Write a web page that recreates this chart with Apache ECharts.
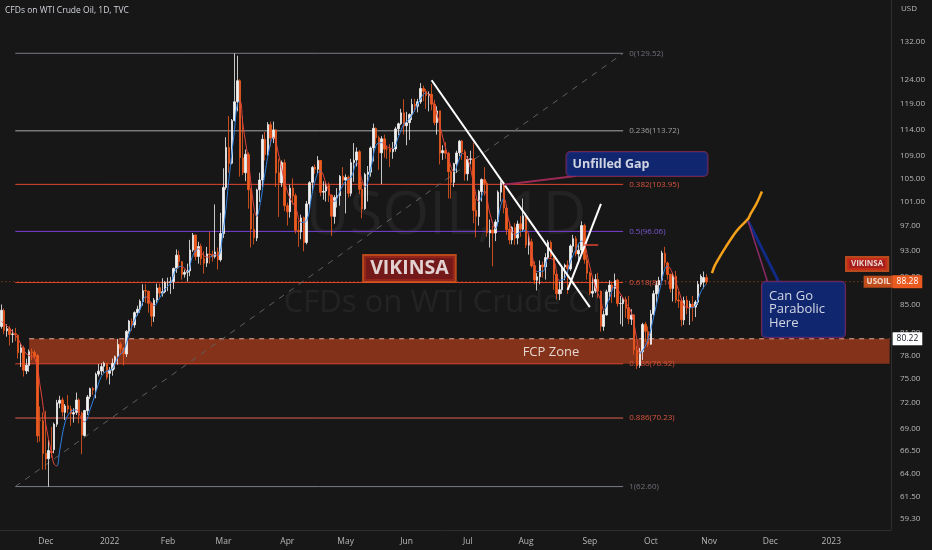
<!DOCTYPE html>
<html><head><meta charset="utf-8">
<script src="https://cdn.jsdelivr.net/npm/echarts@6/dist/echarts.min.js"></script>
<style>html,body{margin:0;padding:0;background:#171717;}#c{width:932px;height:550px;}</style>
</head><body><div id="c"></div>
<script>
// ---------- DATA ----------
const firstDay = '2021-11-09';
const lastDay = '2023-01-31';
const monthNames = ['Jan','Feb','Mar','Apr','May','Jun','Jul','Aug','Sep','Oct','Nov','Dec'];
const yTicks = [59.3,61.5,64,66.5,69,72,75,78,81,85,89,93,97,101,105,109,114,119,124,132];

// daily [open, high, low, close], one row per trading day from firstDay
const ohlc = [
[81.9,84.97,81.6,84.15],[84.1,84.4,80.85,81.34],[81.3,82.2,80.5,81.59],[81.6,82.0,79.3,80.79],[80.8,81.5,79.7,80.88],[80.9,81.7,79.9,80.76],[80.7,80.8,77.6,78.36],[78.4,79.6,76.5,79.01],[79.0,79.3,75.3,76.10],[76.0,77.6,75.6,76.75],[76.7,78.8,75.9,78.50],[78.5,78.9,77.4,78.39],[78.4,78.7,77.6,77.90],[78.0,78.2,67.4,68.15],[70.0,71.6,67.5,69.95],[69.9,70.9,64.4,66.18],
[66.2,71.1,64.4,65.57],[65.6,67.7,62.6,66.50],[66.4,69.2,65.7,66.26],[66.6,69.7,66.2,69.49],[69.5,72.4,69.2,72.05],[72.0,72.9,71.4,72.36],[72.4,72.7,70.4,70.94],[70.9,71.9,70.0,71.67],[71.7,73.0,70.8,71.29],[71.3,71.7,69.3,70.73],[70.7,71.4,69.7,70.87],[70.9,73.3,70.6,72.38],[72.4,72.6,69.6,70.86],[70.8,71.0,66.1,68.23],[68.2,71.2,68.1,71.12],[71.1,73.0,70.6,72.76],[72.8,73.9,72.5,73.79],[73.8,74.0,73.0,73.60],[73.6,75.8,72.6,75.57],[75.6,76.9,75.3,75.98],[76.0,77.0,75.5,76.56],[76.6,77.2,75.8,76.99],[77.0,77.0,74.9,75.21],
[75.7,76.5,74.3,76.08],[76.1,77.6,75.4,76.99],[77.0,78.0,76.2,77.85],[77.9,80.2,76.8,79.46],[79.5,79.8,78.2,78.90],[78.9,79.1,76.7,78.23],[78.2,81.4,77.8,81.22],[81.2,82.8,80.9,82.64],[82.6,83.0,81.3,82.12],[82.1,84.0,81.7,83.82],[83.8,84.8,83.4,84.30],[84.3,85.7,83.8,85.43],[85.4,87.9,84.8,86.96],[87.0,87.9,85.2,86.90],[86.9,86.9,83.8,85.14],[85.1,85.3,81.9,83.31],[83.3,85.9,82.5,85.60],[85.6,88.0,85.2,87.35],[87.4,88.0,86.0,86.61],[86.6,88.8,86.1,86.82],[86.8,88.4,86.6,88.15],
[88.2,88.9,86.9,88.20],[88.2,89.0,86.5,88.26],[88.3,90.4,87.2,90.27],[90.3,93.2,89.6,92.31],[92.3,93.0,90.3,91.32],[91.3,91.4,88.6,89.36],[89.4,90.1,88.9,89.66],[89.7,91.0,88.3,89.88],[89.9,94.7,89.1,93.10],[93.1,95.8,92.8,95.46],[95.5,95.5,91.5,92.07],[92.1,94.4,91.0,93.66],[93.7,94.1,90.8,91.76],[91.8,92.9,89.5,91.07],[91.1,93.6,90.5,92.50],[92.5,96.0,91.0,92.35],[92.4,93.0,91.3,92.10],[92.1,100.5,91.8,92.81],[92.8,93.5,90.1,91.59],[91.6,99.1,91.3,95.72],
[95.7,106.8,95.0,103.41],[103.4,112.5,103.0,110.60],[110.6,116.6,106.0,107.67],[107.7,116.0,107.5,115.68],[115.7,129.52,115.5,119.40],[119.4,129.0,117.5,123.70],[123.7,124.0,105.3,108.70],[108.7,116.6,105.6,106.02],[106.0,110.2,104.5,109.33],[109.3,109.7,99.8,103.01],[103.0,103.3,93.5,96.44],[96.4,99.0,94.0,95.04],[95.0,103.2,94.5,102.98],[103.0,106.0,100.9,104.70],[104.7,113.0,103.5,112.12],[112.1,113.5,108.2,109.27],[109.3,115.4,109.0,114.93],[114.9,115.5,110.8,112.34],[112.3,115.5,111.4,113.90],[113.9,114.0,103.5,105.96],[106.0,108.5,98.4,104.24],[104.2,108.2,103.5,107.82],[107.8,108.4,99.4,100.28],
[100.3,100.8,97.0,99.27],[99.3,103.9,98.3,103.28],[103.3,105.0,100.5,101.96],[102.0,102.4,95.7,96.23],[96.2,97.8,93.6,96.03],[96.0,98.8,94.8,98.26],[98.3,98.5,92.9,94.29],[94.3,101.1,94.0,100.60],[100.6,104.5,99.5,104.25],[104.3,107.2,102.5,106.95],[107.0,107.5,105.8,106.60],[106.6,109.0,105.8,108.21],[108.2,108.3,101.9,102.56],[102.6,104.5,101.3,102.75],[102.8,104.4,101.0,103.79],[103.8,104.3,100.9,102.07],[102.1,102.2,95.3,98.54],[98.5,102.1,97.3,101.70],[101.7,103.3,100.0,102.02],[102.0,105.6,100.3,105.36],[105.4,107.0,103.9,104.69],
[104.7,105.7,99.0,105.17],[105.2,105.5,101.7,102.41],[102.4,108.5,101.9,107.81],[107.8,111.4,104.4,108.26],[108.3,110.6,107.1,109.77],[109.8,110.1,102.3,103.09],[103.1,104.4,98.2,99.76],[99.8,106.0,99.6,105.71],[105.7,107.2,101.0,106.13],[106.1,110.8,105.3,110.49],[110.5,115.1,108.0,114.20],[114.2,114.4,111.2,112.40],[112.4,112.8,106.5,109.59],[109.6,112.7,104.0,112.21],[112.2,113.0,108.7,110.28],[110.3,111.0,108.5,110.29],[110.3,111.2,107.0,109.77],[109.8,111.6,108.5,110.33],[110.3,114.5,109.8,114.09],[114.1,115.3,112.9,115.07],[115.1,118.0,114.8,117.20],[117.2,119.9,113.0,114.67],
[114.7,117.4,111.0,115.26],[115.3,117.1,112.0,116.87],[116.9,120.0,115.8,118.87],[118.9,120.0,117.4,118.50],[118.5,120.0,117.3,119.41],[119.4,123.2,119.0,122.11],[122.1,122.7,119.5,121.51],[121.5,122.0,118.0,120.67],[120.7,121.5,117.5,120.93],[120.9,123.0,117.7,118.93],[118.9,119.8,114.8,115.31],[115.3,118.5,113.0,117.59],[117.6,117.6,107.5,109.56],[109.6,111.0,108.3,110.00],[110.0,111.6,108.5,109.52],[109.5,109.8,101.5,106.19],[106.2,106.5,101.5,104.27],[104.3,107.8,103.5,107.62],[107.6,110.0,106.0,109.57],[109.6,112.0,109.0,111.76],[111.8,112.0,108.3,109.78],[109.8,110.2,104.6,105.76],
[105.8,109.0,104.6,108.43],[108.4,110.0,107.5,108.50],[108.5,111.5,97.4,99.50],[99.5,101.5,95.1,98.53],[98.5,103.0,97.0,102.73],[102.7,105.0,101.0,104.79],[104.8,107.0,102.0,104.09],[104.1,104.5,95.2,95.84],[95.8,98.0,93.5,96.30],[96.3,97.0,90.6,95.78],[95.8,98.0,94.5,97.59],[97.6,102.9,97.0,102.60],[102.6,104.6,101.0,104.22],[104.2,104.4,99.0,99.90],[99.9,100.3,95.5,96.35],[96.4,97.7,94.0,94.70],[94.7,96.9,94.0,96.70],[96.7,97.4,93.9,94.98],[95.0,97.8,94.0,97.26],[97.3,98.6,95.2,96.42],[96.4,101.5,96.0,98.62],
[98.6,99.0,93.4,93.89],[93.9,95.7,92.4,94.42],[94.4,94.9,90.4,90.66],[90.7,91.4,87.9,88.54],[88.5,89.6,87.0,89.01],[89.0,91.5,87.9,90.76],[90.8,91.3,88.9,90.50],[90.5,92.6,88.6,91.93],[91.9,94.7,91.6,94.34],[94.3,94.6,91.9,92.09],[92.1,92.2,87.1,89.41],[89.4,89.8,85.7,86.53],[86.5,88.3,85.6,87.11],[87.1,90.8,86.5,90.50],[90.5,91.0,88.5,90.77],[90.8,91.5,86.5,90.23],[90.2,94.0,89.9,93.74],[93.7,95.5,92.7,94.89],[94.9,95.3,92.1,92.52],[92.5,94.1,91.5,93.06],[93.1,97.7,92.5,97.01],[97.0,97.3,91.0,91.64],[91.6,92.4,88.6,89.55],
[89.6,89.8,86.3,86.61],[86.6,89.0,86.0,86.87],[86.9,89.4,86.6,88.60],[88.6,89.6,85.9,86.88],[86.9,87.0,81.2,81.94],[81.9,84.1,81.3,83.54],[83.5,87.1,83.4,86.79],[86.8,88.5,85.6,87.78],[87.8,88.3,85.2,87.31],[87.3,89.5,86.0,88.48],[88.5,88.7,84.7,85.10],[85.1,86.2,82.2,85.11],[85.1,86.0,81.9,85.73],[85.7,86.1,83.1,84.45],[84.5,86.2,82.2,82.94],[82.9,84.3,82.1,83.49],[83.5,83.6,78.1,78.74],[78.7,79.3,76.25,76.71],[76.7,79.0,76.4,78.50],[78.5,82.4,77.4,82.15],[82.2,82.5,79.8,81.23],[81.2,81.9,79.1,79.49],
[79.5,84.2,79.4,83.63],[83.6,87.0,83.4,86.52],[86.5,88.4,85.2,87.76],[87.8,89.0,86.5,88.45],[88.5,93.0,88.3,92.64],[92.6,93.6,90.4,91.13],[91.1,91.3,88.6,89.35],[89.4,89.5,86.7,87.27],[87.3,89.6,85.4,89.11],[89.1,89.9,85.2,85.61],[85.6,86.9,84.5,85.46],[85.5,85.8,81.9,82.82],[82.8,86.1,82.1,85.55],[85.6,86.2,83.6,84.51],[84.5,85.5,82.1,85.05],[85.0,86.2,82.6,84.58],[84.6,85.6,83.2,85.32],[85.3,88.4,84.9,87.91],[87.9,89.4,87.5,89.08],[88.2,89.8,87.3,88.90],[88.9,89.4,87.9,88.28]
];

// smoothed trend indicator: [bar index, value]
const maPoints = [[0,82.6],[3,81.6],[6,80.2],[9,78.2],[12,77.6],[14,74],[16,69.5],[18,66.3],[19,65.0],[20,64.8],[21,66.5],[23,69.8],[25,71.0],[27,71.2],[29,70.0],[30,69.8],[32,71.3],[34,73.3],[36,75.3],[38,76.0],[40,76.3],[42,77.8],[44,78.6],[46,80.8],[48,82.8],[50,84.3],[52,86.1],[54,85.2],[55,84.8],[57,85.9],[59,87.2],[61,88.1],[63,90.2],[65,90.6],[67,89.8],[69,92.3],[71,93.3],[73,92.2],[75,92.0],[77,92.4],[78,92.2],[80,96.5],[82,105],[84,114],[85,119],[86,119.5],[87,115],[89,108],[91,100],[92,98.5],[93,100],[95,106],[97,111.5],[98,112.5],[100,109],[102,104.5],[104,101.5],[106,100],[108,97.5],[110,97.8],[112,102.5],[114,106],[115,106.2],[117,104],[119,101.5],[120,101],[122,102.8],[124,104.5],[126,105.2],[128,107.8],[130,104.5],[131,103.5],[133,106.5],[135,111],[137,111.5],[139,110.7],[141,110.4],[143,112.5],[145,115],[147,116],[149,117.8],[151,120],[153,121.2],[155,119.8],[157,116.8],[159,112.5],[161,108.8],[163,106.2],[165,108.5],[166,109.5],[168,108.5],[170,104.5],[172,101],[174,102.8],[176,99],[178,96.5],[180,100.5],[181,101.5],[183,97.5],[185,95.5],[187,96],[189,96.2],[191,92.8],[193,89.8],[195,89.8],[197,91.8],[199,91.5],[201,88.5],[203,88.8],[205,91.3],[207,93.2],[209,94.5],[210,94.2],[212,90.5],[214,87.5],[216,85.5],[217,84.2],[219,85.8],[221,87.6],[223,86.5],[225,85.2],[227,83.8],[229,80],[230,78.3],[231,78.6],[233,80.2],[235,83.2],[237,86.8],[239,90.2],[240,90.6],[242,89.3],[244,87],[246,84.8],[248,84.5],[250,84.8],[252,86.8],[254,88.0]];

// Fibonacci retracement drawn from bar 5 (1.0) to bar 224 (0)
const fibAnchorBars = [5, 224];
const fibRatios = ['0','0.236','0.382','0.5','0.618','0.786','0.886','1'];
const fibPrices = [129.52,113.72,103.95,96.06,88.16,76.92,70.23,62.60];

const lastPrice = 88.28;
const zoneTop = 80.22, zoneBottom = 76.92, zoneBars = [10, 320];
const trendLine1 = [[155,123.8],[212,84.6]];
const trendLine2 = [[204,87.07],[216,100.6]];
const redTick = [[210,93.9],[215,93.9]];
const parabolicPath = [[256,89.55],[257,90.7],[259,92.2],[261,93.6],[264,95.6],[266,96.7],[269,98.1],[270,99.0],[272,100.6],[273,101.6],[274,102.7]];
const gapPointer = [[207,105.4],[181,103.9]];
const paraPointer = [[269,97.76],[276,88.3]];
const paraPointer2 = [[269,97.76],[280,88.3]];

// ---------- BUILD ----------
function tradingDays(a, b) {
  const out = []; let d = new Date(a + 'T00:00:00Z'); const e = new Date(b + 'T00:00:00Z');
  while (d <= e) { const w = d.getUTCDay(); if (w !== 0 && w !== 6) out.push(d.toISOString().slice(0,10)); d = new Date(d.getTime() + 86400000); }
  return out;
}
const categories = tradingDays(firstDay, lastDay);
const candleData = ohlc.map(r => [r[0], r[3], r[2], r[1]]);

const FONT = "'Open Sans','Noto Sans',sans-serif";
const AX = '#b8b8b8';
const UP = '#f2f2f2', DOWN = '#ef5a1f';
const MA_UP = '#2f7fe0', MA_DOWN = '#e0443a';

const maPieces = [];
for (let k = 0; k < maPoints.length - 1; k++) {
  const a = maPoints[k], b = maPoints[k + 1];
  maPieces.push({ gte: a[0], lt: b[0], color: b[1] >= a[1] ? MA_UP : MA_DOWN });
}
maPieces[maPieces.length - 1].lte = maPieces[maPieces.length - 1].lt; delete maPieces[maPieces.length - 1].lt;

const fibColors = ['#787b86','#a9a9a9','#e0452f','#7b3fd9','#e0452f','#e0452f','#e06050','#787b86'];
const fibLabelColors = ['#6f717a','#a0a0a0','#d9553f','#7a58d2','#d9553f','#d9553f','#d9553f','#6f717a'];

const series = [];
series.push({
  type: 'candlestick', z: 3, data: candleData, barWidth: 2,
  itemStyle: { color: UP, color0: DOWN, borderColor: UP, borderColor0: DOWN, borderWidth: 0.8 }
});
series.push({
  type: 'line', z: 4, symbol: 'none', smooth: 0.4, data: maPoints, silent: true,
  lineStyle: { width: 1 }
});
// zone + 80.22 dashed line
series.push({
  type: 'line', z: 1, symbol: 'none', silent: true,
  data: [[zoneBars[0], zoneTop], [zoneBars[1], zoneTop]],
  lineStyle: { color: '#e6a898', width: 1, type: [5, 5] },
  endLabel: { show: true, formatter: zoneTop.toFixed(2), backgroundColor: '#ffffff', color: '#131722', fontSize: 8.5, fontFamily: FONT, padding: [2, 4], distance: 3 },
  markArea: { silent: true, itemStyle: { color: '#84331a' }, data: [[{ coord: [zoneBars[0], zoneTop] }, { coord: [zoneBars[1], zoneBottom] }]] }
});
// fib lines
fibPrices.forEach((p, i) => {
  series.push({
    type: 'line', z: 1, symbol: 'none', silent: true,
    data: [[fibAnchorBars[0], p], [fibAnchorBars[1], p]],
    lineStyle: { color: fibColors[i], width: 1 },
    endLabel: { show: true, formatter: fibRatios[i] + '(' + p.toFixed(2) + ')', color: fibLabelColors[i], fontSize: 8, fontFamily: FONT, distance: 6 }
  });
});
// diagonal
series.push({
  type: 'line', z: 1, symbol: 'none', silent: true,
  data: [[fibAnchorBars[0], fibPrices[7]], [fibAnchorBars[1], fibPrices[0]]],
  lineStyle: { color: '#5f5f5f', width: 1, type: [6, 6] }
});
// last price line
series.push({
  type: 'line', z: 2, symbol: 'none', silent: true,
  data: [[0, lastPrice], [categories.length - 1, lastPrice]],
  lineStyle: { color: '#ef5a1f', width: 1, type: [1, 3], opacity: 0.75 },
  endLabel: { show: true, formatter: lastPrice.toFixed(2), backgroundColor: '#ea5a1e', color: '#ffffff', fontSize: 8.5, fontFamily: FONT, padding: [2, 4], distance: 3 }
});
// drawings
function seg(data, color, width, extra) {
  return Object.assign({ type: 'line', z: 5, symbol: 'none', silent: true, data, lineStyle: { color, width } }, extra || {});
}
series.push(seg(trendLine1, '#ffffff', 2));
series.push(seg(trendLine2, '#ffffff', 2));
series.push(seg(redTick, '#e0452f', 1.5));
series.push(seg(parabolicPath, '#f5a11a', 2.5, { smooth: 0.3 }));
series.push(seg(gapPointer, '#9a2a55', 2));
series.push(seg(paraPointer2, '#0f2b86', 3));
series.push(seg(paraPointer, '#8a2a66', 1.5));

function note(point, label, z) {
  return { type: 'scatter', z: z || 6, symbolSize: 0, silent: true, data: [point], label: Object.assign({ show: true, position: 'inside', fontFamily: FONT }, label) };
}
series.push(note([198, 78.47], { formatter: 'FCP Zone', color: '#ffffff', fontSize: 13 }));
series.push(note([147, 90.27], { formatter: 'VIKINSA', color: '#ffffff', fontSize: 19.5, fontWeight: 'bold', backgroundColor: '#8b1a1a', borderColor: '#e0561f', borderWidth: 2, padding: [3, 6, 2, 6] }));
series.push(note([229, 107.56], { formatter: 'Unfilled Gap', color: '#ffffff', fontSize: 12.5, fontWeight: 'bold', backgroundColor: '#0f2b86', borderColor: '#8e2a5c', borderWidth: 1, borderRadius: 4, padding: [6, 58, 5, 6] }));
series.push(note([274, 84.27], { formatter: 'Can Go\nParabolic\nHere', color: '#ffffff', fontSize: 13, lineHeight: 13.5, backgroundColor: '#0f2b86', borderColor: '#8e2a5c', borderWidth: 1, borderRadius: 4, padding: [8, 20, 7, 7], align: 'left' }));
series.push(note([categories.length - 1, 90.95], { formatter: 'VIKINSA', color: '#ffffff', fontSize: 8, fontWeight: 'bold', backgroundColor: '#c8231b', borderColor: '#e0561f', borderWidth: 2, padding: [2, 4], offset: [-22.5, 0] }, 7));
series.push(note([categories.length - 1, lastPrice], { formatter: 'USOIL', color: '#ffffff', fontSize: 8, fontWeight: 'bold', backgroundColor: '#ea5a1e', padding: [2, 3], offset: [-11, 0] }, 7));

const chart = echarts.init(document.getElementById('c'));
chart.setOption({
  animation: false,
  backgroundColor: '#171717',
  textStyle: { fontFamily: FONT },
  title: [
    { text: 'CFDs on WTI Crude Oil, 1D, TVC', left: 5, top: 6, padding: 0, textStyle: { color: '#d1d4dc', fontSize: 8.5, fontWeight: 'normal', fontFamily: FONT } },
    { text: 'USD', left: 901, top: 5, padding: 0, textStyle: { color: AX, fontSize: 8, fontWeight: 'normal', fontFamily: FONT } }
  ],
  graphic: [
    { type: 'text', x: 446, y: 217, silent: true, style: { text: 'USOIL, 1D', fill: 'rgba(255,255,255,0.055)', fontSize: 60, fontFamily: FONT, align: 'center', verticalAlign: 'middle' } },
    { type: 'text', x: 446, y: 303, silent: true, style: { text: 'CFDs on WTI Crude Oil', fill: 'rgba(255,255,255,0.055)', fontSize: 31, fontFamily: FONT, align: 'center', verticalAlign: 'middle' } }
  ],
  grid: { left: 0, right: 41, top: 0, bottom: 20 },
  visualMap: { show: false, type: 'piecewise', dimension: 0, seriesIndex: 1, pieces: maPieces },
  xAxis: {
    type: 'category', data: categories, boundaryGap: true,
    axisLine: { show: true, lineStyle: { color: '#2e2e2e' } },
    axisTick: { show: false }, splitLine: { show: false },
    axisLabel: {
      color: AX, fontSize: 8.5, margin: 7, fontFamily: FONT,
      interval: (i, v) => i > 0 && v.slice(0, 7) !== categories[i - 1].slice(0, 7),
      formatter: v => { const m = +v.slice(5, 7); return m === 1 ? v.slice(0, 4) : monthNames[m - 1]; }
    }
  },
  yAxis: {
    type: 'log', logBase: 10, position: 'right', min: 58.2, max: 141.64,
    axisLine: { show: true, lineStyle: { color: '#2e2e2e' } },
    axisTick: { show: false }, splitLine: { show: false },
    axisLabel: { customValues: yTicks, color: AX, fontSize: 8, margin: 9, fontFamily: FONT, formatter: v => Number(v).toFixed(2) }
  },
  series
});
</script></body></html>
